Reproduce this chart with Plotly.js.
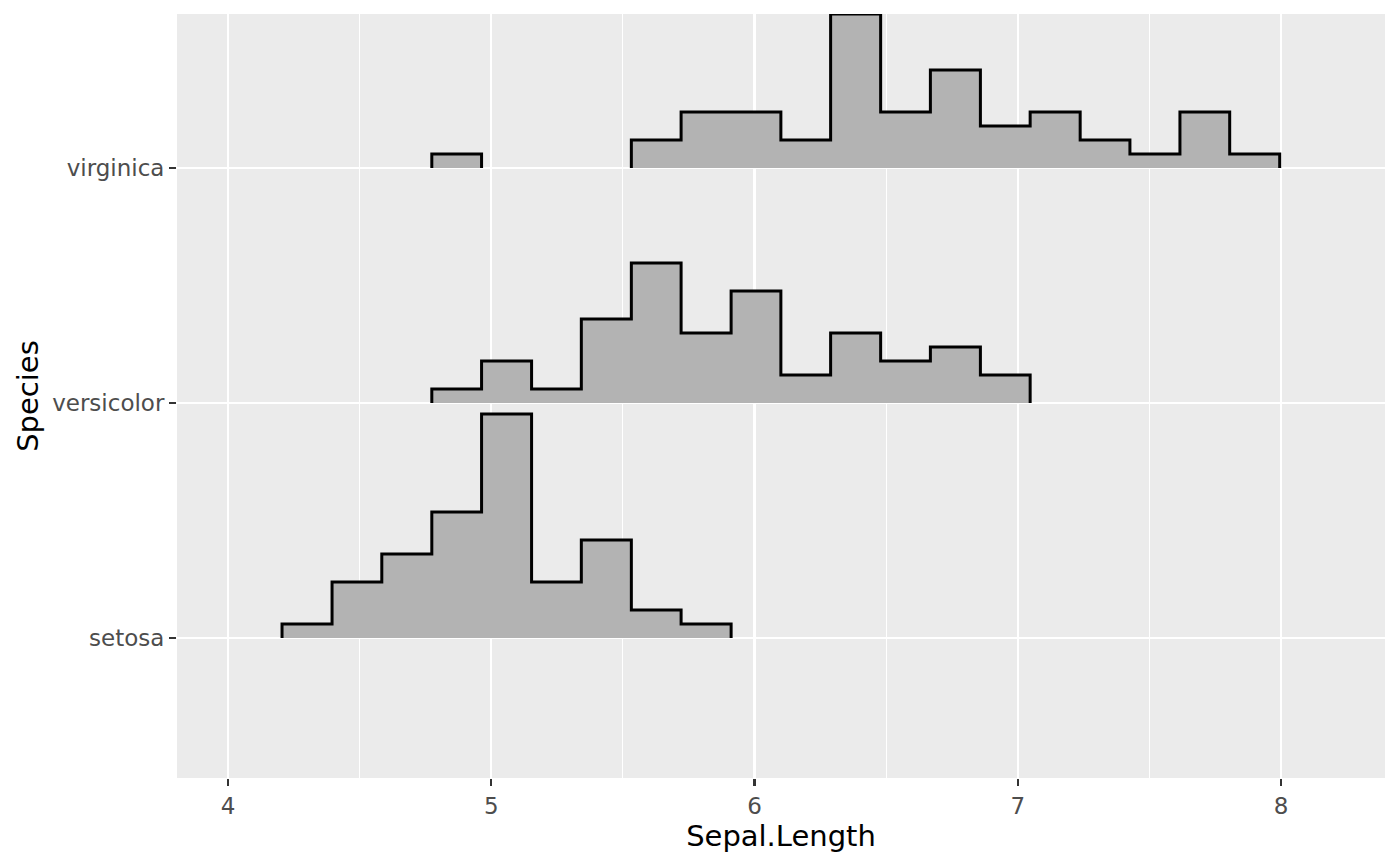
<!DOCTYPE html>
<html>
<head>
<meta charset="utf-8">
<script src="https://cdn.plot.ly/plotly-3.0.1.min.js"></script>
<style>html,body{margin:0;padding:0;background:#fff;}#chart{width:1400px;height:865px;}</style>
</head>
<body>
<div id="chart"></div>
<script>
// ---- data ----
const species = ['setosa', 'versicolor', 'virginica'];
const binEdges = [4.205, 4.395, 4.584, 4.774, 4.963, 5.153, 5.342, 5.532, 5.721, 5.911,
                  6.100, 6.289, 6.479, 6.668, 6.858, 7.047, 7.237, 7.426, 7.616, 7.805, 7.995];
const countsSetosa     = [1, 4, 6, 9, 16, 4, 7, 2, 1, 0, 0, 0, 0, 0, 0, 0, 0, 0, 0, 0];
const countsVersicolor = [0, 0, 0, 1, 3, 1, 6, 10, 5, 8, 2, 5, 3, 4, 2, 0, 0, 0, 0, 0];
const countsVirginica  = [0, 0, 0, 1, 0, 0, 0, 2, 4, 4, 2, 11, 4, 7, 3, 4, 2, 1, 4, 1];
const xTicks = [4, 5, 6, 7, 8];

// ---- scaling (style) ----
const heightPerCount = 0.05957; // ridge height (in category units) per count

const countsBySpecies = [countsSetosa, countsVersicolor, countsVirginica];

function ridgePath(counts, base) {
  const xs = [], ys = [];
  let i = 0;
  const n = counts.length;
  while (i < n) {
    if (counts[i] === 0) { i++; continue; }
    xs.push(binEdges[i]); ys.push(base);
    while (i < n && counts[i] !== 0) {
      const h = base + counts[i] * heightPerCount;
      xs.push(binEdges[i]); ys.push(h);
      xs.push(binEdges[i + 1]); ys.push(h);
      i++;
    }
    xs.push(binEdges[i]); ys.push(base);
    xs.push(null); ys.push(null);
  }
  return {xs, ys};
}

const traces = [];
for (let s = species.length - 1; s >= 0; s--) {
  const p = ridgePath(countsBySpecies[s], s + 1);
  traces.push({
    type: 'scatter', mode: 'lines',
    x: p.xs, y: p.ys,
    fill: 'toself', fillcolor: '#B3B3B3',
    line: {color: '#000000', width: 3, shape: 'linear'},
    connectgaps: false,
    hoverinfo: 'skip', showlegend: false,
    name: species[s]
  });
}

const layout = {
  width: 1400, height: 865,
  margin: {l: 177, r: 15, t: 14, b: 87, pad: 0},
  paper_bgcolor: '#FFFFFF',
  plot_bgcolor: '#EBEBEB',
  font: {family: 'DejaVu Sans, sans-serif', color: '#000000'},
  showlegend: false,
  hovermode: false,
  xaxis: {
    range: [3.806, 8.395],
    tickvals: xTicks, ticktext: xTicks.map(String),
    showgrid: true, gridcolor: '#FFFFFF', gridwidth: 2.2,
    zeroline: false, showline: false,
    ticks: 'outside', ticklen: 7, tickwidth: 2.2, tickcolor: '#333333',
    tickfont: {family: 'DejaVu Sans, sans-serif', size: 23, color: '#4D4D4D'},
    minor: {tickvals: [4.5, 5.5, 6.5, 7.5], showgrid: true, gridcolor: '#FFFFFF', gridwidth: 1.1, ticks: ''},
    title: {text: 'Sepal.Length', font: {family: 'DejaVu Sans, sans-serif', size: 29, color: '#000000'}, standoff: 2},
    fixedrange: true
  },
  yaxis: {
    range: [0.404, 3.655],
    tickvals: [1, 2, 3], ticktext: species,
    showgrid: true, gridcolor: '#FFFFFF', gridwidth: 2.2,
    zeroline: false, showline: false,
    ticks: 'outside', ticklen: 7, tickwidth: 2.2, tickcolor: '#333333',
    tickfont: {family: 'DejaVu Sans, sans-serif', size: 23, color: '#4D4D4D'},
    title: {text: 'Species', font: {family: 'DejaVu Sans, sans-serif', size: 29, color: '#000000'}, standoff: 5},
    fixedrange: true
  }
};

Plotly.newPlot('chart', traces, layout, {staticPlot: true, displayModeBar: false});
</script>
</body>
</html>
